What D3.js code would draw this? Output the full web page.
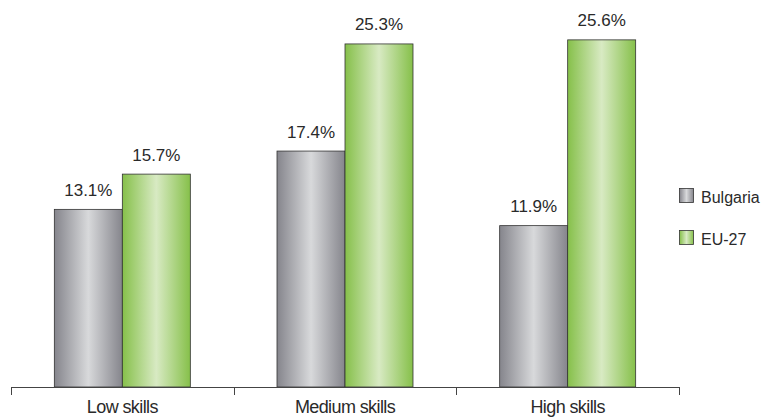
<!DOCTYPE html>
<html><head><meta charset="utf-8">
<script src="https://cdn.jsdelivr.net/npm/d3@7"></script>
<style>body{margin:0;background:#fff}svg{display:block}text{font-family:"Liberation Sans",Arial,sans-serif;fill:#2a2a2a}</style>
</head><body>
<script>
const categories = ["Low skills", "Medium skills", "High skills"];
const seriesNames = ["Bulgaria", "EU-27"];
const bulgaria = [13.1, 17.4, 11.9];
const eu27 = [15.7, 25.3, 25.6];
const series = [bulgaria, eu27];

const W = 766, H = 418;
const svg = d3.select("body").append("svg").attr("width", W).attr("height", H);
const defs = svg.append("defs");
const grads = [
  {id: "gGray", edge: "#85858c", mid: "#d8d9db"},
  {id: "gGreen", edge: "#86c04a", mid: "#d8eac3"}
];
grads.forEach(g => {
  const lg = defs.append("linearGradient").attr("id", g.id).attr("x1", "0").attr("x2", "1").attr("y1", "0").attr("y2", "0");
  lg.append("stop").attr("offset", "0%").attr("stop-color", g.edge);
  lg.append("stop").attr("offset", "50%").attr("stop-color", g.mid);
  lg.append("stop").attr("offset", "100%").attr("stop-color", g.edge);
});

const x0 = d3.scaleBand().domain(categories).range([11, 679]).paddingInner(0).paddingOuter(0);
const x1 = d3.scaleBand().domain(seriesNames).range([0, 136]);
const y = d3.scaleLinear().domain([0, 28.54]).range([387, 0]);

const groups = svg.selectAll("g.grp").data(categories).join("g")
  .attr("transform", d => `translate(${x0(d) + x0.bandwidth()/2 - 68},0)`);

groups.each(function(cat, ci) {
  const g = d3.select(this);
  seriesNames.forEach((s, si) => {
    const v = series[si][ci];
    g.append("rect")
      .attr("x", x1(s)).attr("y", y(v))
      .attr("width", x1.bandwidth()).attr("height", y(0) - y(v))
      .attr("fill", `url(#${grads[si].id})`)
      .attr("stroke", "#333").attr("stroke-width", 0.8);
    g.append("text")
      .attr("x", x1(s) + x1.bandwidth()/2).attr("y", y(v) - 13.5)
      .attr("text-anchor", "middle").attr("font-size", 17)
      .text(v.toFixed(1) + "%");
  });
});

// axis
const axis = svg.append("g");
axis.append("line").attr("x1", x0.range()[0]).attr("x2", x0.range()[1]).attr("y1", 387.5).attr("y2", 387.5).attr("stroke", "#444").attr("stroke-width", 1);
const tickPos = categories.map(c => x0(c)).concat([x0.range()[1]]);
axis.selectAll("line.tk").data(tickPos).join("line")
  .attr("x1", d => Math.round(d) + 0.5).attr("x2", d => Math.round(d) + 0.5)
  .attr("y1", 387).attr("y2", 395).attr("stroke", "#444");
axis.selectAll("text.cat").data(categories).join("text")
  .attr("x", d => x0(d) + x0.bandwidth()/2).attr("y", 413)
  .attr("text-anchor", "middle").attr("font-size", 18).attr("letter-spacing", "-0.6")
  .text(d => d);

// legend
const leg = svg.append("g");
seriesNames.forEach((s, i) => {
  const ly = 188 + i * 42;
  leg.append("rect").attr("x", 679.5).attr("y", ly + 0.5).attr("width", 14).attr("height", 14)
    .attr("fill", `url(#${grads[i].id})`).attr("stroke", "#333").attr("stroke-width", 0.8);
  leg.append("text").attr("x", 701).attr("y", ly + 15).attr("font-size", 16).text(s);
});
</script>
</body></html>
